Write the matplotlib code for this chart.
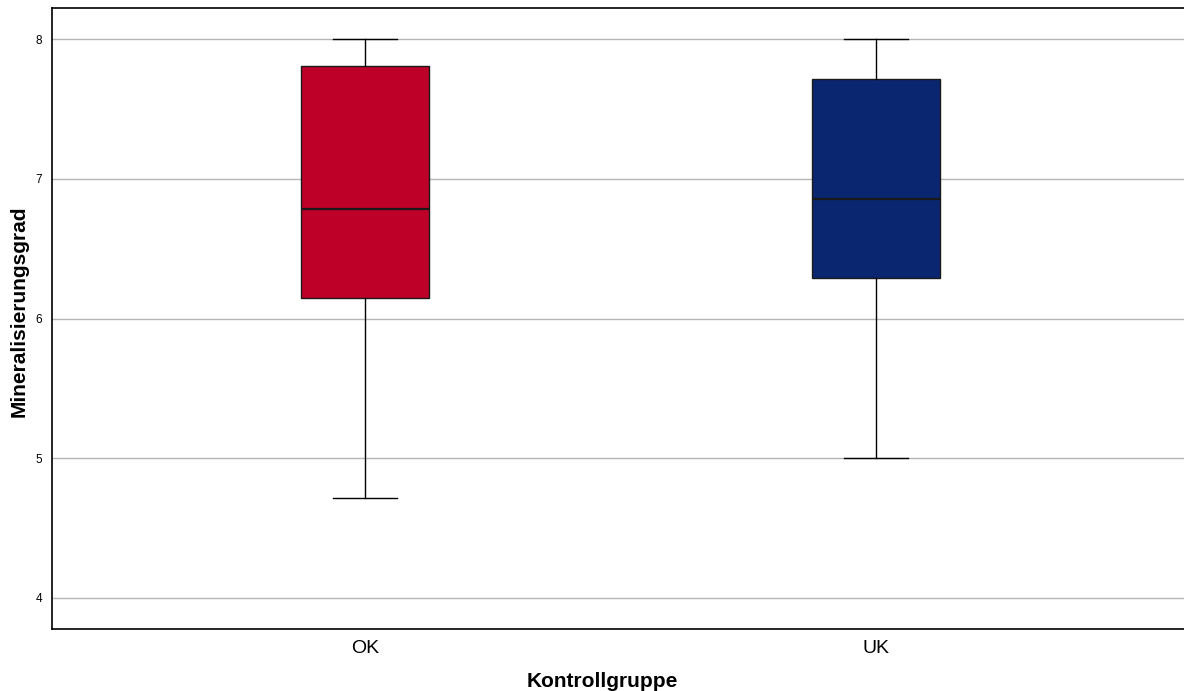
import matplotlib
matplotlib.use("Agg")
import matplotlib.pyplot as plt

# Five-number summaries per control group
groups = ["OK", "UK"]
whisker_low = [4.714, 5.0]
q1 = [6.145, 6.288]
median = [6.784, 6.856]
q3 = [7.809, 7.713]
whisker_high = [8.0, 8.0]
box_colors = ["#BE0028", "#0A2670"]
y_ticks = [4, 5, 6, 7, 8]

plt.rcParams["font.family"] = ["Liberation Sans", "DejaVu Sans"]

fig = plt.figure(figsize=(11.84, 6.91), dpi=100)
ax = fig.add_axes([52 / 1184, 1 - 629 / 691, 1 - 52 / 1184, (629 - 8) / 691])

stats = []
for i, g in enumerate(groups):
    stats.append({
        "label": g,
        "whislo": whisker_low[i],
        "q1": q1[i],
        "med": median[i],
        "q3": q3[i],
        "whishi": whisker_high[i],
        "fliers": [],
    })

bp = ax.bxp(stats, positions=range(len(groups)), widths=0.25, capwidths=0.125,
            patch_artist=True, showfliers=False,
            boxprops=dict(edgecolor="#1a1a1a", linewidth=1.0),
            medianprops=dict(color="#1a1a1a", linewidth=1.6),
            whiskerprops=dict(color="black", linewidth=1.0),
            capprops=dict(color="black", linewidth=1.0),
            zorder=3)
for patch, c in zip(bp["boxes"], box_colors):
    patch.set_facecolor(c)

ax.set_xlim(-0.6116, 1.602)
ax.set_ylim(3.776, 8.224)
ax.set_yticks(y_ticks)
ax.set_yticklabels([str(t) for t in y_ticks], fontsize=8.5)
ax.set_xticks(range(len(groups)))
ax.set_xticklabels(groups, fontsize=14)
ax.tick_params(axis="both", length=0)
ax.tick_params(axis="y", pad=7)
ax.tick_params(axis="x", pad=8)

ax.yaxis.grid(True, color="#b5b5b5", linewidth=1.0, zorder=0)
ax.set_axisbelow(True)

for side in ["left", "bottom", "top"]:
    ax.spines[side].set_color("black")
    ax.spines[side].set_linewidth(1.2)
ax.spines["right"].set_visible(False)

ax.set_xlabel("Kontrollgruppe", fontsize=15, fontweight="bold")
ax.set_ylabel("Mineralisierungsgrad", fontsize=15, fontweight="bold")
ax.xaxis.set_label_coords(0.486, -0.069)
ax.yaxis.set_label_coords(-0.0205, 0.511)

fig.savefig("out.png", dpi=100)
